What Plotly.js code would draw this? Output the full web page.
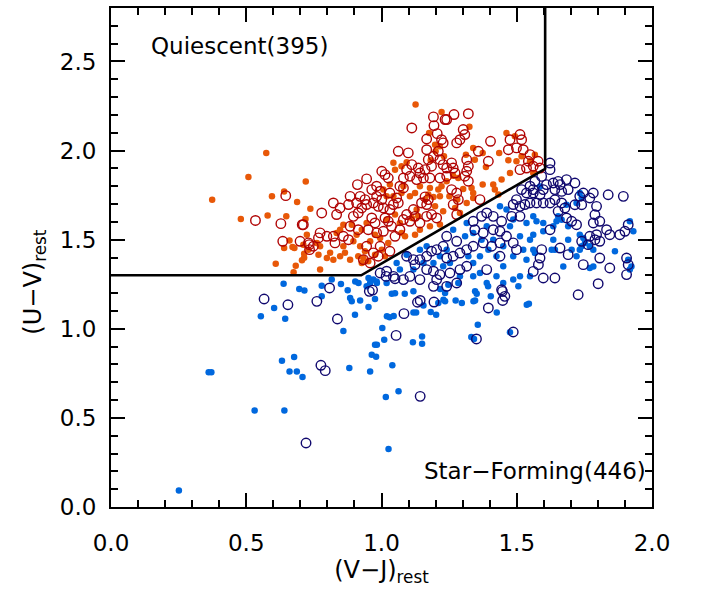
<!DOCTYPE html>
<html><head><meta charset="utf-8">
<script src="https://cdn.plot.ly/plotly-3.0.1.min.js"></script>
<style>html,body{margin:0;padding:0;background:#fff;}#chart{width:704px;height:596px;}</style>
</head><body><div id="chart"></div>
<script>
// Star-forming, filled
const sfFilled = [
[0.638,1.253],[0.696,1.223],[0.715,1.215],[0.779,1.242],[0.816,1.276],[0.850,1.251],[0.875,1.216],[0.903,1.266],[0.915,1.257],[0.884,1.173],
[0.890,1.154],[0.921,1.159],[0.779,1.182],[0.952,1.285],[0.970,1.276],[0.983,1.257],[0.976,1.167],[0.603,1.117],[0.554,1.070],[0.644,1.057],
[0.902,1.079],[0.952,1.122],[0.859,0.988],[1.003,1.004],[1.010,0.939],[1.020,1.070],[1.030,1.065],[1.045,1.072],[1.038,1.197],[1.050,1.200],
[0.976,0.911],[0.983,0.911],[0.964,0.855],[0.980,0.843],[1.040,0.795],[0.958,0.761],[0.881,0.780],[0.632,0.821],[0.677,0.842],[0.660,0.761],
[0.687,0.761],[0.708,0.730],[0.361,0.756],[0.371,0.756],[0.531,0.542],[0.641,0.542],[1.016,0.617],[1.063,0.649],[1.026,0.325],[0.251,0.092],
[1.118,1.210],[1.086,1.197],[1.155,1.130],[1.182,1.094],[1.202,1.079],[1.118,1.092],[1.128,1.092],[1.150,0.957],[1.150,0.916],[1.116,0.924],
[1.217,1.223],[1.235,1.201],[1.229,1.163],[1.210,1.145],[1.247,1.247],[1.284,1.257],[1.235,1.154],[1.274,1.159],[1.297,1.145],[1.346,1.210],
[1.352,1.197],[1.346,1.159],[1.340,1.154],[1.394,1.238],[1.404,1.182],[1.426,1.092],[1.356,1.023],[1.332,0.954],[1.342,0.943],[1.475,0.980],
[1.506,1.238],[1.537,1.135],[1.545,1.141],
[1.315,1.594],[1.339,1.538],[1.309,1.519],[1.389,1.575],[1.370,1.500],[1.321,1.407],[1.364,1.407],[1.339,1.369],[1.395,1.444],[1.425,1.407],
[1.450,1.463],[1.475,1.575],[1.536,1.594],[1.549,1.500],[1.512,1.519],[1.524,1.444],[1.487,1.407],[1.450,1.351],[1.425,1.295],[1.487,1.276],
[1.536,1.388],[1.549,1.295],[1.512,1.295],[1.450,1.257],[1.389,1.257],[1.339,1.295],[1.290,1.295],[1.253,1.369],[1.228,1.351],[1.192,1.369],
[1.155,1.369],[1.118,1.332],[1.068,1.332],[1.056,1.369],[1.019,1.257],[0.982,1.266],[0.958,1.257],[0.945,1.238],[1.265,1.556],[1.216,1.407],
[1.167,1.463],[1.241,1.444],[1.142,1.444],[1.093,1.416],[1.438,1.687],[1.462,1.669],[1.487,1.613],[1.413,1.500],[1.364,1.313],
[1.733,1.762],[1.740,1.734],[1.684,1.696],[1.721,1.706],[1.653,1.631],[1.666,1.612],[1.647,1.603],[1.635,1.575],[1.561,1.631],[1.573,1.603],
[1.598,1.594],[1.598,1.547],[1.561,1.528],[1.733,1.528],[1.746,1.509],[1.752,1.481],[1.690,1.500],[1.703,1.444],[1.733,1.444],[1.740,1.463],
[1.770,1.463],[1.783,1.444],[1.635,1.500],[1.641,1.444],[1.629,1.444],[1.567,1.425],[1.561,1.444],[1.672,1.350],[1.721,1.407],[1.770,1.341],
[1.783,1.350],[1.863,1.435],[1.918,1.603],[1.931,1.547],[1.912,1.388],[1.924,1.350],[1.918,1.332],[1.586,1.799],[1.690,1.575]
];
// Star-forming, open
const sfOpen = [
[0.566,1.167],[0.654,1.135],[0.761,1.154],[0.808,1.229],[0.837,1.055],[0.955,1.210],[0.967,1.217],[1.017,1.294],[1.050,1.281],[1.054,0.963],
[0.776,0.795],[0.792,0.765],[0.721,0.359],
[1.083,1.085],[1.133,1.149],[1.143,1.159],[1.194,1.150],[1.395,1.117],[1.447,1.210],[1.448,1.159],[1.351,0.943],[1.487,0.982],[1.143,0.621],
[1.549,1.800],[1.536,1.762],[1.518,1.781],[1.499,1.725],[1.487,1.697],[1.512,1.687],[1.530,1.697],[1.549,1.706],[1.512,1.631],[1.481,1.631],
[1.444,1.603],[1.413,1.631],[1.389,1.650],[1.370,1.631],[1.339,1.603],[1.345,1.556],[1.376,1.538],[1.413,1.556],[1.438,1.547],[1.462,1.519],
[1.487,1.482],[1.438,1.482],[1.407,1.463],[1.376,1.482],[1.339,1.463],[1.315,1.444],[1.290,1.425],[1.265,1.407],[1.241,1.397],[1.241,1.519],
[1.228,1.463],[1.278,1.491],[1.204,1.444],[1.185,1.435],[1.167,1.407],[1.142,1.388],[1.118,1.388],[1.093,1.407],[1.124,1.360],[1.167,1.332],
[1.192,1.323],[1.216,1.304],[1.204,1.276],[1.253,1.313],[1.290,1.332],[1.315,1.351],[1.278,1.257],[1.241,1.238],[1.192,1.238],[1.142,1.276],
[1.105,1.294],[1.081,1.276],[1.044,1.294],[1.019,1.323],[0.995,1.313],[1.389,1.332],[1.438,1.407],[1.499,1.444],[1.561,1.781],
[1.623,1.930],[1.623,1.893],[1.592,1.855],[1.567,1.827],[1.635,1.818],[1.653,1.827],[1.684,1.837],[1.660,1.809],[1.610,1.809],[1.641,1.781],
[1.666,1.771],[1.690,1.781],[1.598,1.781],[1.586,1.752],[1.561,1.762],[1.573,1.706],[1.598,1.706],[1.623,1.706],[1.641,1.724],[1.666,1.706],
[1.678,1.678],[1.653,1.659],[1.684,1.622],[1.703,1.603],[1.721,1.584],[1.740,1.491],[1.764,1.472],[1.789,1.500],[1.807,1.491],[1.838,1.752],
[1.894,1.743],[1.783,1.762],[1.746,1.762],[1.715,1.696],[1.740,1.696],[1.795,1.687],[1.789,1.640],[1.783,1.594],[1.807,1.603],[1.832,1.556],
[1.844,1.528],[1.881,1.528],[1.912,1.584],[1.900,1.547],[1.807,1.397],[1.844,1.341],[1.746,1.360],[1.690,1.416],[1.660,1.453],[1.623,1.556],
[1.592,1.444],[1.586,1.397],[1.580,1.360],[1.561,1.322],[1.598,1.285],[1.641,1.285],[1.727,1.191],[1.801,1.253],[1.906,1.397],[1.912,1.360],
[1.906,1.304],[1.795,1.528],[1.770,1.519],[1.733,1.743],[1.715,1.818],[1.770,1.734],[1.444,1.219],[1.456,1.182]
];
// Quiescent, filled
const qFilled = [
[0.574,1.987],[0.508,1.852],[0.720,1.827],[0.374,1.724],[0.640,1.771],[0.595,1.743],[0.688,1.712],[0.737,1.674],[0.480,1.616],[0.579,1.635],
[0.648,1.631],[0.719,1.616],[0.660,1.496],[0.640,1.453],[0.671,1.459],[0.678,1.453],[0.714,1.421],[0.706,1.384],[0.714,1.398],[0.609,1.365],
[0.683,1.354],[0.675,1.317],
[1.126,2.258],[1.222,2.217],[1.176,2.099],[1.198,2.033],[1.216,2.024],[1.325,2.133],[1.231,1.968],[1.182,1.945],[1.200,1.996],[1.339,2.015],
[1.374,1.987],[1.345,1.949],[1.312,1.977],[1.386,1.908],[1.462,2.099],[1.493,2.080],[1.435,1.987],[1.469,1.945],[1.499,1.940],[1.518,1.968],
[1.567,1.977],[1.549,1.940],[1.475,1.874],[1.444,1.837],[1.413,1.809],[1.374,1.809],[1.333,1.790],[1.339,1.762],[1.302,1.785],[1.419,1.781],
[1.265,1.859],[1.284,1.846],[1.241,1.828],[1.222,1.800],[1.210,1.781],[1.179,1.790],[1.173,1.753],[1.142,1.800],[1.124,1.762],[1.105,1.743],
[1.081,1.800],[1.074,1.762],[1.044,1.743],[1.031,1.809],[1.007,1.781],[1.019,1.743],[1.161,1.725],[1.192,1.740],[1.216,1.743],[1.251,1.743],
[1.280,1.725],[1.315,1.706],[1.272,1.678],[1.290,1.650],[1.198,1.687],[1.228,1.659],[1.130,1.669],[1.136,1.631],[1.112,1.622],[1.068,1.594],
[1.050,1.641],[1.019,1.613],[1.074,1.538],[1.087,1.519],[1.124,1.528],[1.142,1.556],[1.179,1.575],[1.216,1.585],[0.945,1.594],[0.927,1.556],
[0.908,1.528],[0.976,1.528],[0.995,1.510],[0.958,1.491],[0.890,1.584],[0.859,1.584],[0.847,1.556],[0.834,1.538],[0.896,1.491],[0.921,1.463],
[0.939,1.435],[0.976,1.416],[0.933,1.397],[0.951,1.379],[1.001,1.444],[1.013,1.407],[1.025,1.482],[0.773,1.332],[0.798,1.397],[0.822,1.388],
[0.810,1.426],[0.767,1.416],[0.724,1.528],[0.711,1.472],[0.730,1.444],[0.761,1.482],[0.773,1.463],[0.859,1.463],[0.865,1.426],[0.884,1.388],
[0.847,1.407],[0.914,1.407],[0.927,1.369],[1.044,1.931],[1.074,1.912],[1.050,1.893],[1.093,1.934],[1.339,1.734],[1.432,1.753],[1.561,1.874]
];
// Quiescent, open
const qOpen = [
[0.646,1.747],[0.534,1.608],[0.628,1.590],[0.707,1.584],[0.635,1.491],[0.733,1.472],[0.734,1.444],
[1.268,2.202],[1.321,2.207],[1.241,2.174],[1.235,2.174],[1.192,2.189],[1.194,2.140],[1.206,2.095],[1.222,2.061],[1.228,2.043],[1.302,2.118],
[1.308,2.090],[1.290,2.061],[1.278,2.043],[1.167,2.065],[1.112,2.127],[1.403,2.052],[1.512,2.090],[1.518,2.061],[1.475,2.061],[1.499,2.015],
[1.469,2.005],[1.524,2.005],[1.549,1.977],[1.543,1.940],[1.579,1.940],[1.561,1.912],[1.536,1.902],[1.512,1.893],[1.586,1.902],[1.358,1.996],
[1.395,1.940],[1.315,1.949],[1.321,1.912],[1.315,1.884],[1.259,1.931],[1.265,1.902],[1.272,1.874],[1.210,1.996],[1.192,1.968],[1.216,1.949],
[1.228,1.921],[1.241,1.902],[1.167,2.005],[1.173,1.949],[1.185,1.912],[1.062,1.996],[1.099,1.987],[1.112,1.921],[1.136,1.902],[1.142,1.874],
[1.161,1.893],[1.179,1.846],[1.155,1.846],[1.130,1.837],[1.093,1.893],[1.105,1.856],[1.081,1.846],[1.001,1.884],[1.013,1.865],[1.025,1.846],
[0.945,1.841],[0.911,1.809],[0.995,1.772],[0.982,1.743],[1.001,1.725],[0.970,1.706],[0.988,1.687],[1.007,1.678],[0.921,1.743],[0.939,1.725],
[0.945,1.697],[1.031,1.762],[1.056,1.734],[1.062,1.706],[1.044,1.697],[1.031,1.669],[1.068,1.800],[1.081,1.790],[1.161,1.740],[1.173,1.725],
[1.148,1.706],[1.167,1.697],[1.216,1.846],[1.241,1.856],[1.259,1.781],[1.278,1.762],[1.284,1.725],[1.265,1.697],[1.308,1.856],[1.321,1.828],
[1.167,1.631],[1.185,1.641],[1.204,1.622],[1.093,1.641],[1.105,1.603],[1.081,1.613],[1.068,1.556],[1.013,1.622],[1.025,1.603],[1.037,1.575],
[1.007,1.547],[1.050,1.519],[0.964,1.622],[0.976,1.594],[0.951,1.556],[0.982,1.538],[0.908,1.706],[0.927,1.678],[0.914,1.650],[0.896,1.631],
[0.878,1.697],[0.884,1.743],[0.822,1.706],[0.847,1.678],[0.834,1.641],[1.278,1.641],[1.364,1.725],[0.773,1.538],[0.767,1.510],[0.798,1.519],
[0.822,1.519],[0.828,1.482],[0.859,1.519],[0.730,1.482],[0.748,1.463],[0.779,1.650],[0.711,1.584],[0.699,1.491],[0.884,1.575],[0.914,1.556],
[0.878,1.500],[0.945,1.463],[0.970,1.426],[0.988,1.407],[0.995,1.463],[1.031,1.435],[0.958,1.369],[0.933,1.388],[1.118,1.669],[1.124,1.631],
[1.142,1.594],[0.982,1.800],[0.964,1.781]
];
// UVJ selection boundary
const boundaryX = [0, 0.925, 1.605, 1.605];
const boundaryY = [1.3, 1.3, 1.898, 2.8];
const xTickVals = [0, 0.5, 1.0, 1.5, 2.0];
const xTickText = ["0.0", "0.5", "1.0", "1.5", "2.0"];
const yTickVals = [0, 0.5, 1.0, 1.5, 2.0, 2.5];
const yTickText = ["0.0", "0.5", "1.0", "1.5", "2.0", "2.5"];
const xTitle = "(V\u2212J)<sub>rest</sub>";
const yTitle = "(U\u2212V)<sub>rest</sub>";
const quiescentLabel = "Quiescent(395)";
const starFormingLabel = "Star\u2212Forming(446)";

const FONT = "DejaVu Sans, sans-serif";
const colX = a => a.map(p => p[0]);
const colY = a => a.map(p => p[1]);

const traces = [
  {x: colX(sfFilled), y: colY(sfFilled), type: 'scatter', mode: 'markers',
   marker: {symbol: 'circle', size: 6.5, color: 'rgb(0,104,222)', line: {width: 0}}},
  {x: colX(sfOpen), y: colY(sfOpen), type: 'scatter', mode: 'markers',
   marker: {symbol: 'circle-open', size: 9.5, color: 'rgb(16,8,110)', line: {width: 1.4, color: 'rgb(16,8,110)'}}},
  {x: colX(qFilled), y: colY(qFilled), type: 'scatter', mode: 'markers',
   marker: {symbol: 'circle', size: 6.5, color: 'rgb(232,88,8)', line: {width: 0}}},
  {x: colX(qOpen), y: colY(qOpen), type: 'scatter', mode: 'markers',
   marker: {symbol: 'circle-open', size: 9.5, color: 'rgb(176,4,4)', line: {width: 1.4, color: 'rgb(176,4,4)'}}},
  {x: boundaryX, y: boundaryY, type: 'scatter', mode: 'lines',
   line: {color: '#000', width: 2.6}, cliponaxis: true}
];

const axisCommon = {
  ticks: 'inside', ticklen: 14, tickwidth: 2, tickcolor: '#000',
  showline: true, linewidth: 2, linecolor: '#000', mirror: 'allticks',
  showgrid: false, zeroline: false, automargin: false,
  tickfont: {family: FONT, size: 23, color: '#000'},
  minor: {ticks: 'inside', ticklen: 7, tickwidth: 2, tickcolor: '#000', dtick: 0.1, tick0: 0, showgrid: false}
};

const layout = {
  width: 704, height: 596,
  margin: {l: 111, r: 52, t: 8, b: 89, pad: 0},
  paper_bgcolor: '#fff', plot_bgcolor: '#fff',
  showlegend: false,
  font: {family: FONT, color: '#000'},
  xaxis: Object.assign({}, axisCommon, {
    range: [0, 2.0], tickmode: 'array', tickvals: xTickVals, ticktext: xTickText,
    ticklabelstandoff: 14,
    title: {text: xTitle, font: {family: FONT, size: 24, color: '#000'}, standoff: 6}
  }),
  yaxis: Object.assign({}, axisCommon, {
    range: [0, 2.8], tickmode: 'array', tickvals: yTickVals, ticktext: yTickText,
    ticklabelstandoff: 8
  }),
  annotations: [
    {text: yTitle, xref: 'paper', yref: 'paper', x: -0.142, y: 0.45, xanchor: 'center', yanchor: 'middle',
     textangle: -90, showarrow: false, font: {family: FONT, size: 24, color: '#000'}},
    {text: quiescentLabel, xref: 'paper', yref: 'paper', x: 0.07, y: 0.924, xanchor: 'left', yanchor: 'middle',
     showarrow: false, font: {family: FONT, size: 23, color: '#000'}},
    {text: starFormingLabel, xref: 'paper', yref: 'paper', x: 0.993, y: 0.073, xanchor: 'right', yanchor: 'middle',
     showarrow: false, font: {family: FONT, size: 23, color: '#000'}}
  ]
};

Plotly.newPlot('chart', traces, layout, {staticPlot: true, displayModeBar: false});
</script>
</body></html>
